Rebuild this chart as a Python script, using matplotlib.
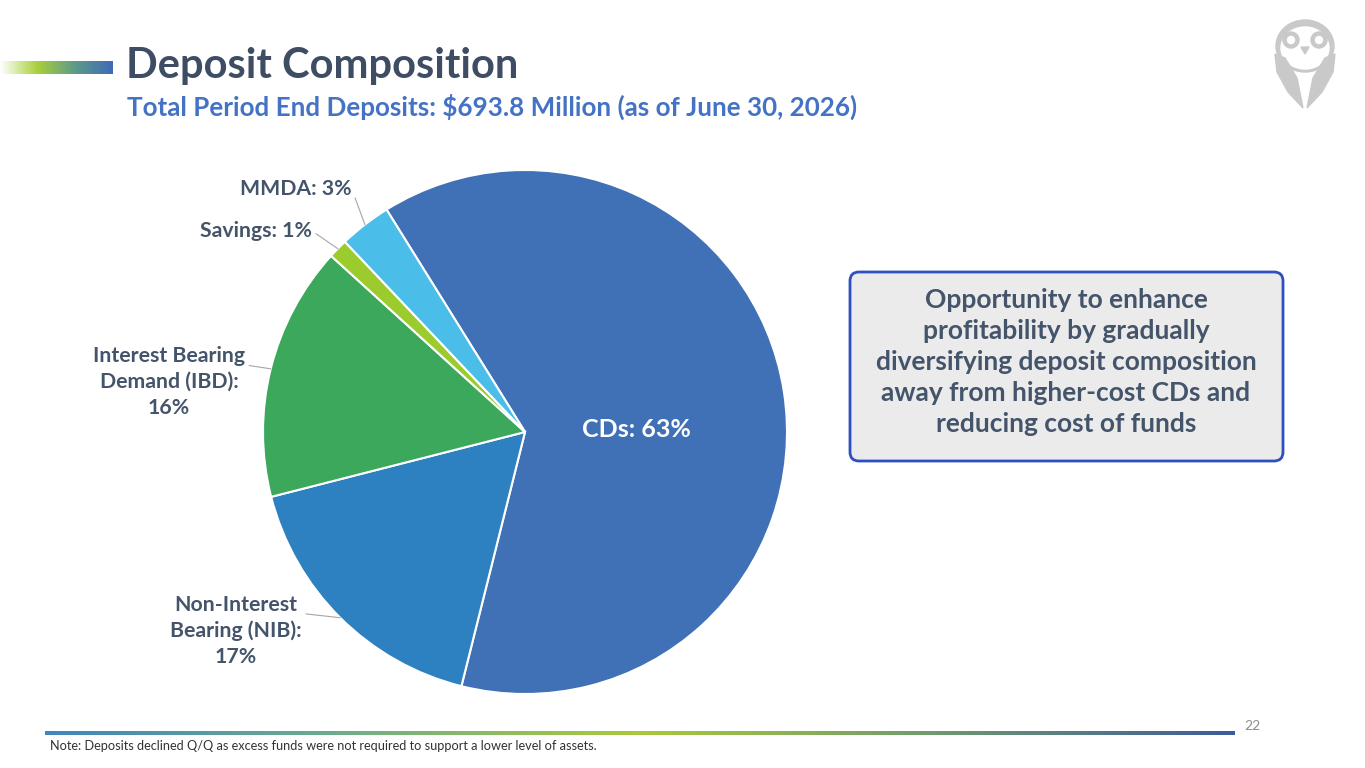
import numpy as np
import matplotlib.pyplot as plt
from matplotlib.patches import FancyBboxPatch, Ellipse, Polygon, Circle
from matplotlib.colors import LinearSegmentedColormap

plt.rcParams['font.family'] = ['Lato', 'DejaVu Sans']
plt.rcParams['font.weight'] = 'bold'

# data
categories = ['CDs', 'Non-Interest Bearing (NIB)', 'Interest Bearing Demand (IBD)', 'Savings', 'MMDA']
shares = [62.7, 17.1, 15.7, 1.2, 3.2]
labels = ['CDs: 63%', 'Non-Interest\nBearing (NIB):\n17%', 'Interest Bearing\nDemand (IBD):\n16%',
          'Savings: 1%', 'MMDA: 3%']
colors = ['#4070B6', '#2E81C0', '#3BA85C', '#9BCB2C', '#4ABDE8']

title = 'Deposit Composition'
subtitle = 'Total Period End Deposits: $693.8 Million (as of June 30, 2026)'
callout = ('Opportunity to enhance\nprofitability by gradually\ndiversifying deposit composition\n'
           'away from higher-cost CDs and\nreducing cost of funds')
note = 'Note: Deposits declined Q/Q as excess funds were not required to support a lower level of assets.'
page_no = '22'

W, H = 1365, 768
fig = plt.figure(figsize=(W / 100, H / 100), dpi=100)

# overlay axes in pixel units for the slide decoration
deco = fig.add_axes([0, 0, 1, 1])
deco.set_xlim(0, W)
deco.set_ylim(H, 0)
deco.axis('off')

# header bar gradient
head_cmap = LinearSegmentedColormap.from_list('head', ['#FFFFFF', '#A8CF3A', '#5E9A8A', '#3F6BB4'])
deco.imshow(np.linspace(0, 1, 256)[None, :], cmap=head_cmap, aspect='auto',
            extent=(0, 113, 74, 61), zorder=1)

# bottom line gradient
foot_cmap = LinearSegmentedColormap.from_list('foot', ['#3F86BE', '#6FAE8A', '#A9C93A', '#6E9A6E', '#3D5C9C'])
deco.imshow(np.linspace(0, 1, 256)[None, :], cmap=foot_cmap, aspect='auto',
            extent=(45, 1235, 735, 731), zorder=1)

deco.text(126, 66, title, fontsize=30, color='#3E4D63', ha='left', va='center')
deco.text(127, 107, subtitle, fontsize=18.7, color='#4472C4', ha='left', va='center')
deco.text(50, 746, note, fontsize=9.2, color='#333333', fontweight='normal', ha='left', va='center')
deco.text(1252, 726, page_no, fontsize=10, color='#8C8C8C', fontweight='normal', ha='center', va='center')

# owl logo
owl = '#C9C9C9'
deco.add_patch(Ellipse((1305, 46), 58, 52, color=owl, zorder=2))
deco.add_patch(Ellipse((1305, 48), 48, 42, color='white', zorder=3))
for ex in (1291, 1319):
    deco.add_patch(Circle((ex, 40), 8, color=owl, zorder=4))
    deco.add_patch(Circle((ex, 40), 3.5, color='white', zorder=5))
deco.add_patch(Polygon([(1301, 47), (1309, 47), (1305, 54)], color=owl, zorder=4))
wing = [(1275, 54), (1285, 58), (1297, 78), (1303, 108), (1288, 92), (1277, 72)]
deco.add_patch(Polygon(wing, color=owl, zorder=4))
deco.add_patch(Polygon([(2 * 1305 - x, y) for x, y in wing], color=owl, zorder=4))

# callout box
box = FancyBboxPatch((850, 272), 433, 189, boxstyle='round,pad=0,rounding_size=9',
                     facecolor='#EBEBEB', edgecolor='#2F4FC0', linewidth=2, zorder=2)
deco.add_patch(box)
deco.text(1066, 362, callout, fontsize=19, color='#44546A', ha='center', va='center',
          linespacing=1.36, zorder=3)

# pie
ax = fig.add_axes([263 / W, 74 / H, 524 / W, 524 / H])
wedges, _ = ax.pie(shares, colors=colors, startangle=121.9, counterclock=False, radius=1,
                   wedgeprops=dict(edgecolor='white', linewidth=1.5))
ax.set_xlim(-1, 1)
ax.set_ylim(-1, 1)
ax.set_aspect('equal')

# CDs label inside
ax.text(0.425, 0.01, labels[0], fontsize=18, color='white', ha='center', va='center')

# outside labels: text centre in pixels from top-left, relpos of leader on the text box
label_pos = {
    1: ((236, 631), (0.92, 0.76)),
    2: ((169, 382), (1.0, 0.74)),
    3: ((256, 231), (1.0, 0.5)),
    4: ((296, 189), (1.0, 0.5)),
}
for i, ((px, py), rel) in label_pos.items():
    w = wedges[i]
    mid = np.deg2rad((w.theta1 + w.theta2) / 2)
    ax.annotate(labels[i], xy=(np.cos(mid), np.sin(mid)), xytext=(px, H - py),
                textcoords='figure pixels', ha='center', va='center',
                fontsize=15.3, color='#44546A', linespacing=1.35,
                arrowprops=dict(arrowstyle='-', color='#A6A6A6', lw=0.8,
                                shrinkA=1, shrinkB=0, relpos=rel))

fig.savefig('out.png', dpi=100)
